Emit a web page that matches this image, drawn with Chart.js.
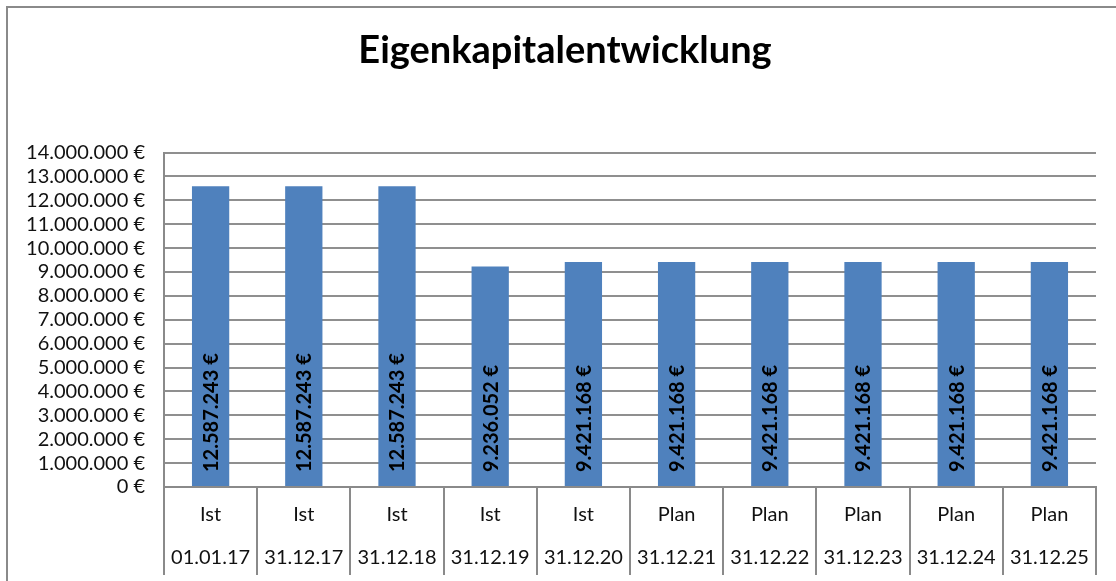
<!DOCTYPE html>
<html>
<head>
<meta charset="utf-8">
<script src="https://cdn.jsdelivr.net/npm/chart.js@4.4.0/dist/chart.umd.min.js"></script>
<style>
  html, body { margin: 0; padding: 0; background: #fff; }
  #wrap { position: relative; width: 1116px; height: 581px; }
  #frame {
    position: absolute; left: 6px; top: 6px; right: 0; bottom: 0;
    border-top: 2px solid #8a8a8a; border-left: 2px solid #8a8a8a;
    pointer-events: none;
  }
</style>
</head>
<body>
<div id="wrap">
  <canvas id="chart" width="1116" height="581"></canvas>
  <div id="frame"></div>
</div>
<script>
// Eigenkapital je Stichtag
const statuses = ['Ist', 'Ist', 'Ist', 'Ist', 'Ist', 'Plan', 'Plan', 'Plan', 'Plan', 'Plan'];
const dates = ['01.01.17', '31.12.17', '31.12.18', '31.12.19', '31.12.20',
               '31.12.21', '31.12.22', '31.12.23', '31.12.24', '31.12.25'];
const equity = [12587243, 12587243, 12587243, 9236052, 9421168,
                9421168, 9421168, 9421168, 9421168, 9421168];
const yTicks = { min: 0, max: 14000000, step: 1000000 };

function formatEuro(v) {
    const s = Math.round(v).toString().replace(/\B(?=(\d{3})+(?!\d))/g, '.');
    return s + ' €';
}

// vertical value labels inside the bars, reading bottom-up
const barLabels = {
    id: 'barLabels',
    afterDatasetsDraw(chart) {
        const ctx = chart.ctx;
        const meta = chart.getDatasetMeta(0);
        ctx.save();
        ctx.font = 'bold 20px Lato';
        ctx.fillStyle = '#000';
        ctx.textAlign = 'left';
        ctx.textBaseline = 'middle';
        meta.data.forEach(function(bar, i) {
            ctx.save();
            ctx.translate(bar.x + 1, bar.base - 14);
            ctx.rotate(-Math.PI / 2);
            ctx.fillText(formatEuro(equity[i]), 0, 0);
            ctx.restore();
        });
        ctx.restore();
    }
};

// title sits a bit right of the canvas centre in the original
const titleShift = {
    id: 'titleShift',
    afterLayout(chart) {
        if (chart.titleBlock) chart.titleBlock.left += 34;
    }
};

new Chart(document.getElementById('chart'), {
    type: 'bar',
    data: {
        labels: statuses.map(function(s, i) { return [s, dates[i]]; }),
        datasets: [{
            label: 'Eigenkapital',
            data: equity,
            backgroundColor: '#4F81BD',
            borderWidth: 0,
            categoryPercentage: 1.0,
            barPercentage: 0.4,
        }]
    },
    options: {
        responsive: false,
        animation: false,
        devicePixelRatio: 1,
        layout: { padding: { left: 0, right: 20, top: 0, bottom: 0 } },
        plugins: {
            legend: { display: false },
            tooltip: { enabled: false },
            title: {
                display: true,
                text: 'Eigenkapitalentwicklung',
                color: '#000',
                font: { family: 'Lato', size: 38, weight: 'bold', lineHeight: 1.2 },
                padding: { top: 28, bottom: 79 }
            }
        },
        scales: {
            x: {
                grid: {
                    offset: true,
                    drawOnChartArea: false,
                    drawTicks: true,
                    tickLength: 88,
                    color: '#8a8a8a',
                    lineWidth: 2,
                },
                border: { color: '#8a8a8a', width: 2 },
                ticks: {
                    color: '#111',
                    padding: -82,
                    maxRotation: 0,
                    autoSkip: false,
                    font: { family: 'Lato', size: 20, lineHeight: 2.16 }
                },
                afterFit: function(scale) { scale.height = 94; }
            },
            y: {
                min: yTicks.min,
                max: yTicks.max,
                grid: { color: '#8f8f8f', lineWidth: 2, drawTicks: false },
                border: { color: '#8a8a8a', width: 2 },
                ticks: {
                    stepSize: yTicks.step,
                    autoSkip: false,
                    padding: 19,
                    color: '#111',
                    font: { family: 'Lato', size: 20, lineHeight: 1.1 },
                    callback: function(v) { return formatEuro(v); }
                },
                afterFit: function(scale) { scale.width = 164; }
            }
        }
    },
    plugins: [barLabels, titleShift]
});
</script>
</body>
</html>
